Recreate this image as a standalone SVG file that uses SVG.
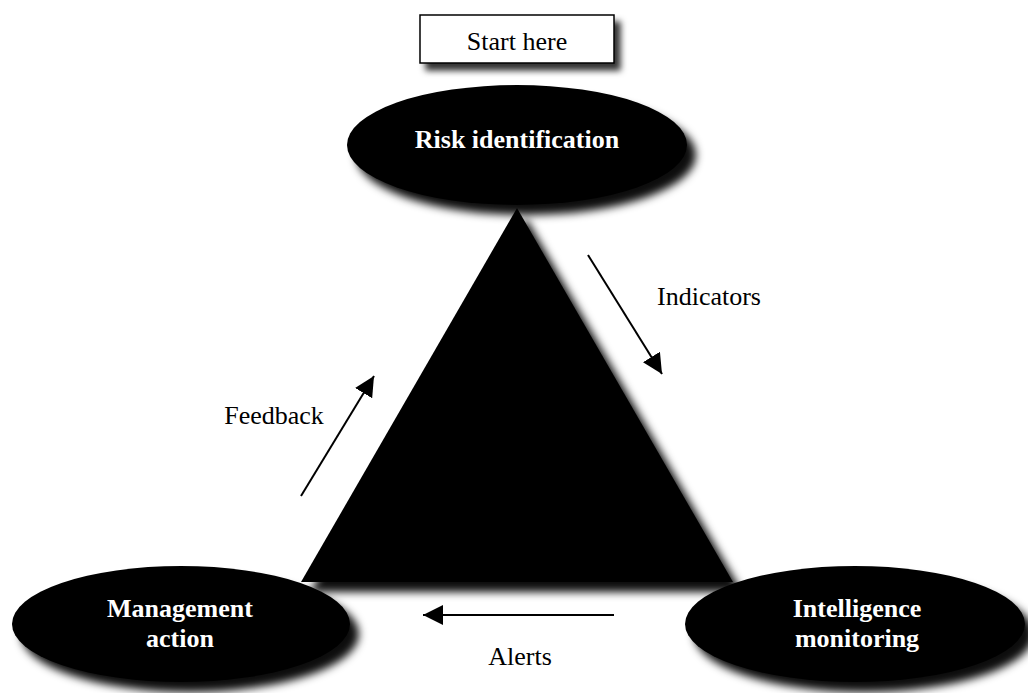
<svg xmlns="http://www.w3.org/2000/svg" width="1028" height="693" viewBox="0 0 1028 693">
  <defs>
    <filter id="shadow" x="-20%" y="-20%" width="150%" height="150%">
      <feDropShadow dx="9" dy="10" stdDeviation="4.5" flood-color="#000" flood-opacity="0.95"/>
    </filter>
    <filter id="shadow-box" x="-20%" y="-30%" width="150%" height="180%">
      <feDropShadow dx="6" dy="7" stdDeviation="3" flood-color="#000" flood-opacity="0.8"/>
    </filter>
    <marker id="arrow" markerUnits="userSpaceOnUse" markerWidth="20" markerHeight="20" refX="20" refY="10" orient="auto">
      <path d="M0,0 L20,10 L0,20 z" fill="#000"/>
    </marker>
  </defs>
  <style>
    .node { fill: #000; filter: url(#shadow); }
    .node-label { font-family: "Liberation Serif", "Times New Roman", serif; font-size: 26px; font-weight: bold; fill: #fff; text-anchor: middle; }
    .edge { stroke: #000; stroke-width: 2; fill: none; marker-end: url(#arrow); }
    .edge-label { font-family: "Liberation Serif", "Times New Roman", serif; font-size: 26px; fill: #000; text-anchor: middle; }
  </style>

  <rect width="1028" height="693" fill="#fff"/>

  <!-- central triangle -->
  <g id="triangle">
    <polygon class="node" points="517,208 733,582 301,582"/>
  </g>

  <g id="start">
    <rect x="420" y="15" width="194" height="48" fill="#fff" stroke="#000" stroke-width="1.5" filter="url(#shadow-box)"/>
    <text class="edge-label" x="517" y="50">Start here</text>
  </g>

  <g id="risk-identification">
    <ellipse class="node" cx="517" cy="145" rx="170" ry="60"/>
    <text class="node-label" x="517" y="148">Risk identification</text>
  </g>

  <g id="management-action">
    <ellipse class="node" cx="181" cy="624" rx="169" ry="58"/>
    <text class="node-label" x="180" y="617">Management</text>
    <text class="node-label" x="180" y="647">action</text>
  </g>

  <g id="intelligence-monitoring">
    <ellipse class="node" cx="855" cy="624" rx="170" ry="58"/>
    <text class="node-label" x="857" y="617">Intelligence</text>
    <text class="node-label" x="857" y="647">monitoring</text>
  </g>

  <g id="connectors">
    <line class="edge" x1="588" y1="255" x2="662" y2="374"/>
    <text class="edge-label" x="709" y="305">Indicators</text>
    <line class="edge" x1="614" y1="615" x2="423" y2="615"/>
    <text class="edge-label" x="520" y="665">Alerts</text>
    <line class="edge" x1="301" y1="496" x2="374" y2="376"/>
    <text class="edge-label" x="274" y="424">Feedback</text>
  </g>
</svg>
